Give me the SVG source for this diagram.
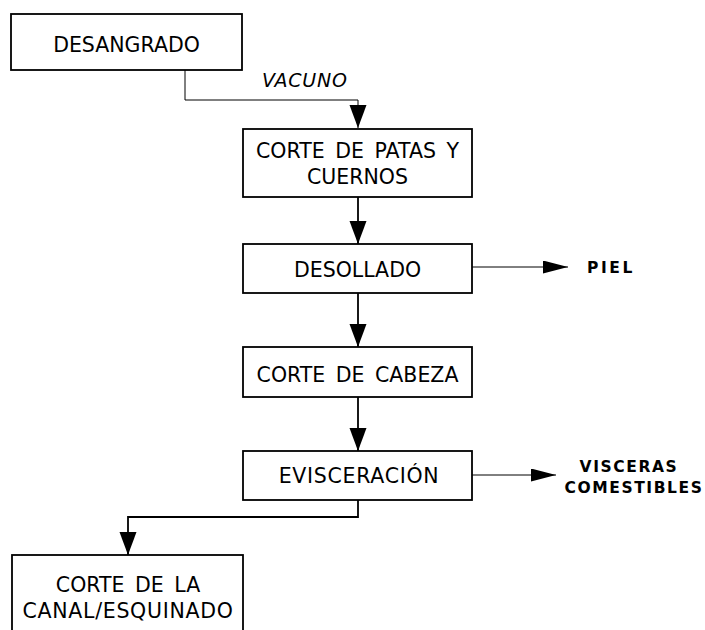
<svg xmlns="http://www.w3.org/2000/svg" width="705" height="630" viewBox="0 0 705 630">
<defs>
<style>
.box{fill:#fff;stroke:#000;stroke-width:1.8}
.t{font-family:"DejaVu Sans","Verdana",sans-serif;font-size:20.5px;fill:#000;text-anchor:middle;word-spacing:4px}
.b{font-family:"DejaVu Sans","Verdana",sans-serif;font-weight:bold;font-size:15.5px;fill:#000;letter-spacing:1.6px}
.it{font-family:"DejaVu Sans","Verdana",sans-serif;font-style:italic;font-size:19px;fill:#000;letter-spacing:0.8px}
.c{fill:none;stroke:#000;stroke-width:1.8}
.thin{fill:none;stroke:#000;stroke-width:1}
</style>
<marker id="av" markerUnits="userSpaceOnUse" markerWidth="24" markerHeight="18" refX="23" refY="8.5" orient="auto" viewBox="0 0 24 18">
<path d="M0,0 L23,8.5 L0,17 z" fill="#000"/>
</marker>
<marker id="ah" markerUnits="userSpaceOnUse" markerWidth="26" markerHeight="14" refX="25" refY="6.5" orient="auto" viewBox="0 0 26 14">
<path d="M0,0 L25,6.5 L0,13 z" fill="#000"/>
</marker>
</defs>
<rect width="705" height="630" fill="#fff"/>
<g id="connectors">
<path class="thin" d="M185,70 V100 H358 V128" marker-end="url(#av)"/>
<path class="c" d="M358,197 V244" marker-end="url(#av)"/>
<path class="thin" d="M472,267 H568" marker-end="url(#ah)"/>
<path class="c" d="M358,293 V347" marker-end="url(#av)"/>
<path class="c" d="M358,397 V451" marker-end="url(#av)"/>
<path class="thin" d="M472,475 H556" marker-end="url(#ah)"/>
<path class="c" d="M358,500 V517 H128 V555" marker-end="url(#av)"/>
<text class="it" x="262" y="87">VACUNO</text>
</g>
<g id="desangrado"><rect class="box" x="11" y="14" width="231" height="56"/><text class="t" x="126.5" y="52">DESANGRADO</text></g>
<g id="corte-patas"><rect class="box" x="243" y="129" width="229" height="68"/><text class="t" x="357.5" y="158">CORTE DE PATAS Y</text><text class="t" x="357.5" y="184">CUERNOS</text></g>
<g id="desollado"><rect class="box" x="243" y="244" width="229" height="49"/><text class="t" x="357.5" y="277">DESOLLADO</text></g>
<g id="piel"><text class="b" x="587" y="273" style="letter-spacing:2.6px">PIEL</text></g>
<g id="corte-cabeza"><rect class="box" x="243" y="347" width="229" height="50"/><text class="t" x="357.5" y="382">CORTE DE CABEZA</text></g>
<g id="evisceracion"><rect class="box" x="243" y="451" width="229" height="49"/><text class="t" x="359" y="483" style="letter-spacing:0.7px">EVISCERACIÓN</text></g>
<g id="visceras"><text class="b" x="629" y="472" text-anchor="middle">VISCERAS</text><text class="b" x="634" y="493" text-anchor="middle">COMESTIBLES</text></g>
<g id="corte-canal"><rect class="box" x="12" y="555" width="231" height="90"/><text class="t" x="128" y="592">CORTE DE LA</text><text class="t" x="128" y="618" style="letter-spacing:0.7px">CANAL/ESQUINADO</text></g>
</svg>
